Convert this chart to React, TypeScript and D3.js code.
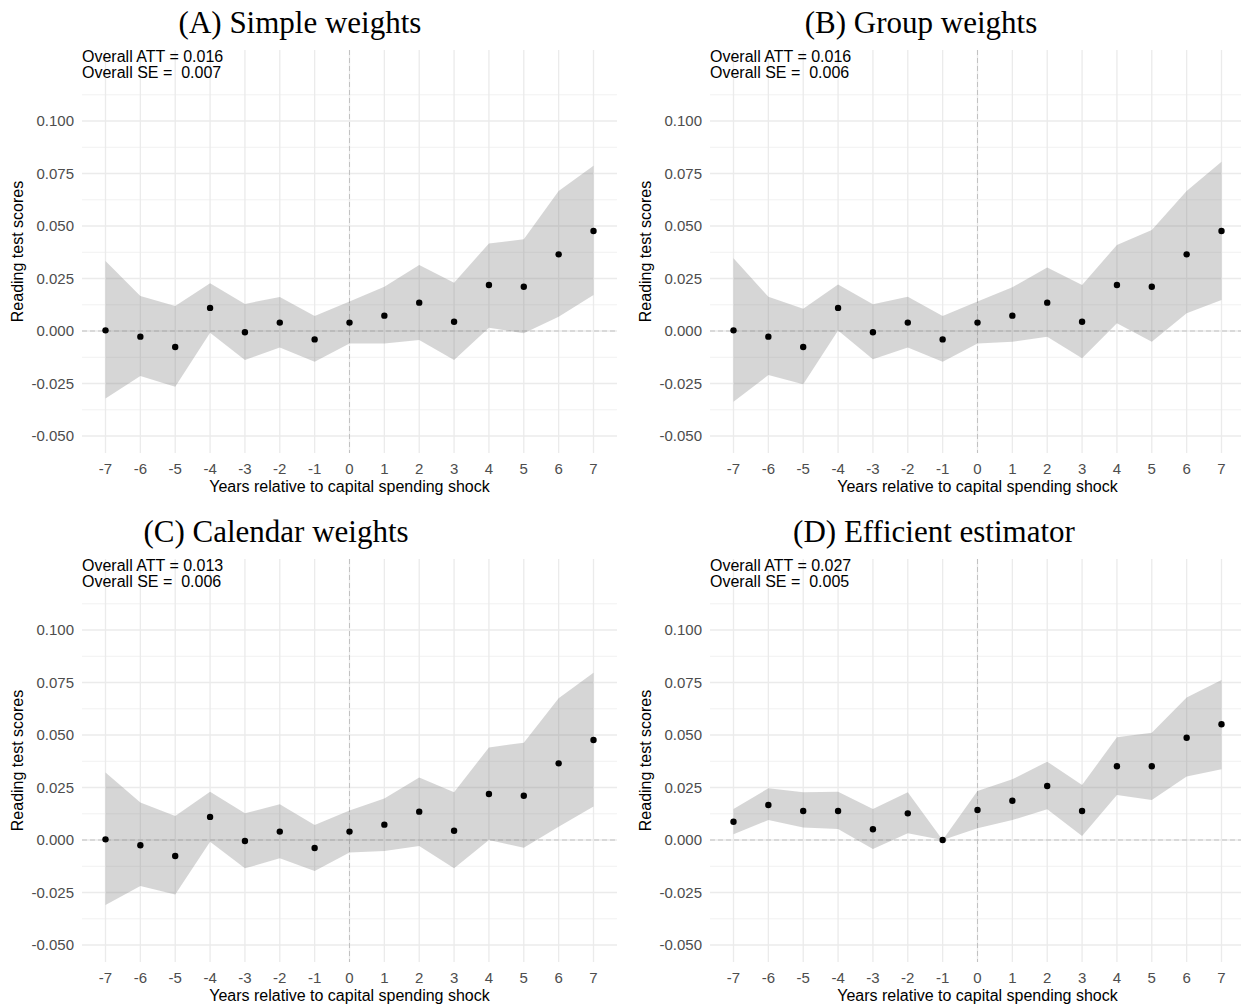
import React from "react";
import * as d3 from "d3";

const years = [-7, -6, -5, -4, -3, -2, -1, 0, 1, 2, 3, 4, 5, 6, 7];
const yTicks = [-0.05, -0.025, 0, 0.025, 0.05, 0.075, 0.1];
const yMinor = [-0.0375, -0.0125, 0.0125, 0.0375, 0.0625, 0.0875, 0.1125];

const titles = ["(A) Simple weights", "(B) Group weights", "(C) Calendar weights", "(D) Efficient estimator"];
const attLabels = ["0.016", "0.016", "0.013", "0.027"];
const seLabels = ["0.007", "0.006", "0.006", "0.005"];

const estA = [0.0003, -0.0027, -0.0076, 0.011, -0.0006, 0.004, -0.004, 0.004, 0.0073, 0.0135, 0.0044, 0.0219, 0.0211, 0.0365, 0.0476];
const upA = [0.0333, 0.0167, 0.0119, 0.0227, 0.0129, 0.0162, 0.0071, 0.014, 0.0211, 0.0314, 0.023, 0.0417, 0.0437, 0.0667, 0.0787];
const loA = [-0.0322, -0.0214, -0.0265, -0.0008, -0.0138, -0.0079, -0.0146, -0.0059, -0.0059, -0.0043, -0.0138, 0.0016, -0.0011, 0.0068, 0.0171];

const estB = [0.0003, -0.0027, -0.0076, 0.011, -0.0006, 0.004, -0.004, 0.004, 0.0073, 0.0135, 0.0044, 0.0219, 0.0211, 0.0365, 0.0476];
const upB = [0.0346, 0.0163, 0.0106, 0.0222, 0.0127, 0.0163, 0.0071, 0.014, 0.0208, 0.0302, 0.0219, 0.041, 0.0481, 0.0667, 0.0806];
const loB = [-0.0337, -0.021, -0.0254, 0.0002, -0.0135, -0.0079, -0.0146, -0.0059, -0.0051, -0.0027, -0.013, 0.0037, -0.0051, 0.0084, 0.0148];

const estC = [0.0003, -0.0025, -0.0076, 0.011, -0.0005, 0.004, -0.0038, 0.004, 0.0073, 0.0135, 0.0044, 0.0219, 0.0211, 0.0365, 0.0476];
const upC = [0.0321, 0.0178, 0.0114, 0.023, 0.0127, 0.017, 0.0071, 0.014, 0.0198, 0.0298, 0.0227, 0.0441, 0.0463, 0.0675, 0.0797];
const loC = [-0.031, -0.0219, -0.0259, -0.0008, -0.0135, -0.0087, -0.0148, -0.006, -0.0052, -0.0029, -0.0135, 0.0, -0.0037, 0.0063, 0.0159];

const estD = [0.0087, 0.0167, 0.0138, 0.0138, 0.0051, 0.0127, 0.0, 0.0143, 0.0187, 0.0257, 0.0138, 0.0351, 0.0351, 0.0487, 0.0551];
const upD = [0.0148, 0.0246, 0.0227, 0.023, 0.0148, 0.0227, 0.0, 0.0233, 0.0289, 0.0373, 0.0262, 0.0489, 0.0511, 0.0678, 0.0762];
const loD = [0.0027, 0.0095, 0.0059, 0.0052, -0.0043, 0.0032, 0.0, 0.0056, 0.0095, 0.0146, 0.0019, 0.0214, 0.019, 0.0302, 0.0337];

const estimates = [estA, estB, estC, estD];
const uppers = [upA, upB, upC, upD];
const lowers = [loA, loB, loC, loD];

const offsets = [
  [0, 0],
  [628, 0],
  [0, 509],
  [628, 509],
];
const titleCenters = [300, 293, 276, 306];

const SANS = "'Liberation Sans', Arial, sans-serif";
const SERIF = "'Liberation Serif', 'Times New Roman', serif";

function Panel({ idx }: { idx: number }) {
  const [ox, oy] = offsets[idx];
  const x = d3.scaleLinear().domain([-7, 7]).range([ox + 105.5, ox + 593.5]);
  const y = d3.scaleLinear().domain([-0.05, 0.1]).range([oy + 436, oy + 121]);
  const x0 = x(-7.674);
  const x1 = x(7.674);
  const yTop = y(0.1338);
  const yBot = y(-0.0581);
  const est = estimates[idx];
  const up = uppers[idx];
  const lo = lowers[idx];
  const rows = years.map((yr, i) => ({ yr, e: est[i], u: up[i], l: lo[i] }));
  const area = d3
    .area<{ yr: number; u: number; l: number }>()
    .x((d) => x(d.yr))
    .y0((d) => y(d.l))
    .y1((d) => y(d.u));
  const clipId = `clip${idx}`;
  return (
    <g>
      <defs>
        <clipPath id={clipId}>
          <rect x={x0} y={yTop} width={x1 - x0} height={yBot - yTop} />
        </clipPath>
      </defs>
      <text x={ox + titleCenters[idx]} y={oy + 33} textAnchor="middle" fontFamily={SERIF} fontSize={31} fill="#000">
        {titles[idx]}
      </text>
      <g clipPath={`url(#${clipId})`}>
        {yMinor.map((v) => (
          <line key={"mn" + v} x1={x0} x2={x1} y1={y(v)} y2={y(v)} stroke="#ebebeb" strokeWidth={0.7} />
        ))}
        {yTicks.map((v) => (
          <line key={"mj" + v} x1={x0} x2={x1} y1={y(v)} y2={y(v)} stroke="#ebebeb" strokeWidth={1.3} />
        ))}
        {years.map((v) => (
          <line key={"vx" + v} x1={x(v)} x2={x(v)} y1={yTop} y2={yBot} stroke="#ebebeb" strokeWidth={1.3} />
        ))}
        <line x1={x0} x2={x1} y1={y(0)} y2={y(0)} stroke="#c2c2c2" strokeWidth={1.2} strokeDasharray="5,3" />
        <line x1={x(0)} x2={x(0)} y1={yTop} y2={yBot} stroke="#c2c2c2" strokeWidth={1} strokeDasharray="5,3" />
        <path d={area(rows) || ""} fill="#777777" fillOpacity={0.3} />
        {rows.map((d) => (
          <circle key={"p" + d.yr} cx={x(d.yr)} cy={y(d.e)} r={3.2} fill="#000" />
        ))}
      </g>
      <text x={x0} y={oy + 62} fontFamily={SANS} fontSize={16} fill="#000">
        {`Overall ATT = ${attLabels[idx]}`}
      </text>
      <text x={x0} y={oy + 78} fontFamily={SANS} fontSize={16} fill="#000" style={{ whiteSpace: "pre" }}>
        {`Overall SE =  ${seLabels[idx]}`}
      </text>
      {yTicks.map((v) => (
        <text
          key={"yt" + v}
          x={x0 - 8}
          y={y(v)}
          dy="0.35em"
          textAnchor="end"
          fontFamily={SANS}
          fontSize={15}
          fill="#4d4d4d"
        >
          {d3.format(".3f")(v).replace("−", "-")}
        </text>
      ))}
      {years.map((v) => (
        <text key={"xt" + v} x={x(v)} y={oy + 474} textAnchor="middle" fontFamily={SANS} fontSize={15} fill="#4d4d4d">
          {String(v)}
        </text>
      ))}
      <text x={(x0 + x1) / 2} y={oy + 492} textAnchor="middle" fontFamily={SANS} fontSize={16} fill="#000">
        Years relative to capital spending shock
      </text>
      <text
        transform={`translate(${ox + 23},${(yTop + yBot) / 2}) rotate(-90)`}
        textAnchor="middle"
        fontFamily={SANS}
        fontSize={16}
        fill="#000"
      >
        Reading test scores
      </text>
    </g>
  );
}

export default function App() {
  return (
    <svg
      width={1241}
      height={1005}
      style={{ position: "absolute", left: 0, top: 0, background: "#fff" }}
      xmlns="http://www.w3.org/2000/svg"
    >
      <rect x={0} y={0} width={1241} height={1005} fill="#fff" />
      {[0, 1, 2, 3].map((i) => (
        <Panel key={i} idx={i} />
      ))}
    </svg>
  );
}
